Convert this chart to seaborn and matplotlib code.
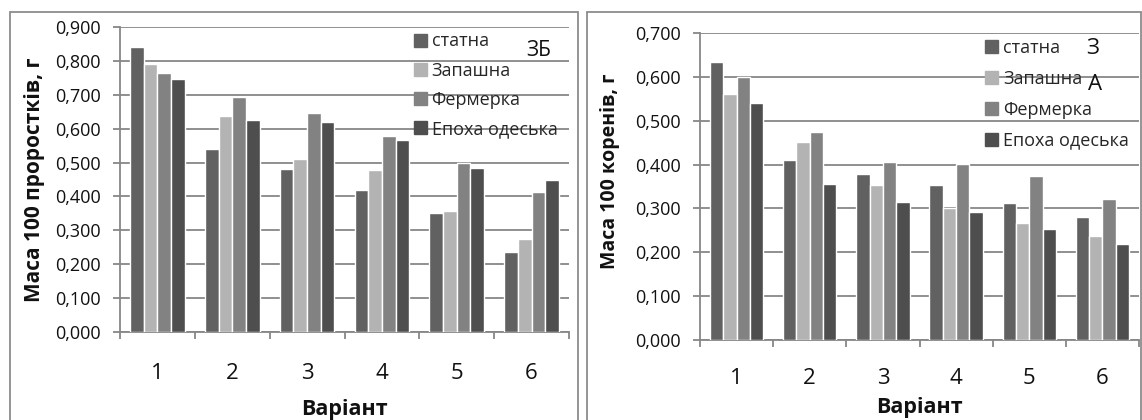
import matplotlib
matplotlib.use("Agg")
import matplotlib.pyplot as plt
import seaborn as sns
import pandas as pd
from matplotlib.patches import Rectangle
from matplotlib.ticker import FixedLocator, FuncFormatter

variants = ["1", "2", "3", "4", "5", "6"]
varieties = ["статна", "Запашна", "Фермерка", "Епоха одеська"]
colors = ["#616161", "#b3b3b3", "#828282", "#4e4e4e"]

sprouts_statna = [0.842, 0.540, 0.480, 0.420, 0.350, 0.237]
sprouts_zapashna = [0.790, 0.637, 0.510, 0.478, 0.357, 0.275]
sprouts_fermerka = [0.765, 0.694, 0.647, 0.577, 0.500, 0.412]
sprouts_epokha = [0.748, 0.626, 0.620, 0.568, 0.484, 0.448]

roots_statna = [0.635, 0.411, 0.379, 0.353, 0.313, 0.280]
roots_zapashna = [0.560, 0.451, 0.354, 0.302, 0.266, 0.236]
roots_fermerka = [0.600, 0.474, 0.406, 0.402, 0.373, 0.321]
roots_epokha = [0.540, 0.356, 0.315, 0.292, 0.254, 0.218]

left_ylabel = "Маса 100 проростків, г"
right_ylabel = "Маса 100 коренів, г"
xlabel = "Варіант"


def long_df(series):
    rows = []
    for name, vals in zip(varieties, series):
        for v, val in zip(variants, vals):
            rows.append({"Варіант": v, "Сорт": name, "value": val})
    return pd.DataFrame(rows)


df_left = long_df([sprouts_statna, sprouts_zapashna, sprouts_fermerka, sprouts_epokha])
df_right = long_df([roots_statna, roots_zapashna, roots_fermerka, roots_epokha])

sns.set_theme(style="white")
plt.rcParams["font.family"] = ["Open Sans", "DejaVu Sans"]

fig = plt.figure(figsize=(11.42, 4.2), dpi=100)
W, H = 1142, 420

# panel borders
for x0, x1 in [(10, 578), (587, 1141)]:
    fig.patches.append(Rectangle((x0 / W, -0.05), (x1 - x0) / W, (H - 12) / H + 0.05,
                                 transform=fig.transFigure, fill=False,
                                 edgecolor="#8c8c8c", linewidth=1.3))

ax1 = fig.add_axes([120 / W, 1 - 332 / H, 449 / W, 305 / H])
ax2 = fig.add_axes([700 / W, 1 - 340 / H, 439 / W, 307 / H])

grid_c = "#878787"
txt_c = "#111111"


def style(ax, df, ymax, ylabel, ylsize, xpad):
    sns.barplot(data=df, x="Варіант", y="value", hue="Сорт", hue_order=varieties,
                palette=colors, width=0.73, ax=ax, errorbar=None, saturation=1,
                zorder=3, legend=False)
    ax.set_ylim(0, ymax)
    ax.set_xlim(-0.5, 5.5)
    ticks = [i / 10 for i in range(int(round(ymax * 10)) + 1)]
    ax.yaxis.set_major_locator(FixedLocator(ticks))
    ax.yaxis.set_major_formatter(FuncFormatter(lambda v, p: f"{v:.3f}".replace(".", ",")))
    ax.grid(axis="y", color=grid_c, linewidth=1.3, zorder=0)
    ax.set_axisbelow(True)
    for s in ["top", "right"]:
        ax.spines[s].set_visible(False)
    for s in ["left", "bottom"]:
        ax.spines[s].set_color(grid_c)
        ax.spines[s].set_linewidth(1.3)
    ax.tick_params(axis="y", which="major", left=True, length=5, width=1.3, color=grid_c,
                   labelsize=13, pad=9, labelcolor=txt_c)
    ax.set_xticks(range(6))
    ax.set_xticklabels(variants)
    ax.xaxis.set_minor_locator(FixedLocator([i - 0.5 for i in range(7)]))
    ax.tick_params(axis="x", which="major", bottom=False, labelsize=16, pad=xpad,
                   labelcolor=txt_c)
    ax.tick_params(axis="x", which="minor", bottom=True, length=5, width=1.3, color=grid_c)
    ax.set_ylabel(ylabel, fontsize=ylsize, fontweight="bold", color=txt_c)
    ax.set_xlabel(xlabel, fontsize=15.5, fontweight="bold", color=txt_c)
    ax.patch.set_alpha(0)
    handles = [Rectangle((0, 0), 1, 1, color=c) for c in colors]
    return handles


leg_kw = dict(loc="upper left", frameon=False, fontsize=13, handlelength=0.72,
              handleheight=0.72, handletextpad=0.25, borderaxespad=0, borderpad=0)

h = style(ax1, df_left, 0.9, left_ylabel, 15, 16)
ax1.legend(h, varieties, bbox_to_anchor=(0.655, 0.982), labelspacing=0.62, **leg_kw)
ax1.yaxis.set_label_coords(-0.167, 0.5)
ax1.xaxis.set_label_coords(0.5, -0.22)

h = style(ax2, df_right, 0.7, right_ylabel, 14, 14)
ax2.legend(h, varieties, bbox_to_anchor=(0.65, 0.982), labelspacing=0.72, **leg_kw)
ax2.yaxis.set_label_coords(-0.182, 0.55)
ax2.xaxis.set_label_coords(0.5, -0.185)

fig.text(539 / W, 1 - 50 / H, "ЗБ", fontsize=15, ha="center", va="center", color=txt_c)
fig.text(1093 / W, 1 - 48 / H, "З", fontsize=16, ha="center", va="center", color=txt_c)
fig.text(1095 / W, 1 - 85 / H, "А", fontsize=16, ha="center", va="center", color=txt_c)

fig.savefig("out.png", dpi=100)
